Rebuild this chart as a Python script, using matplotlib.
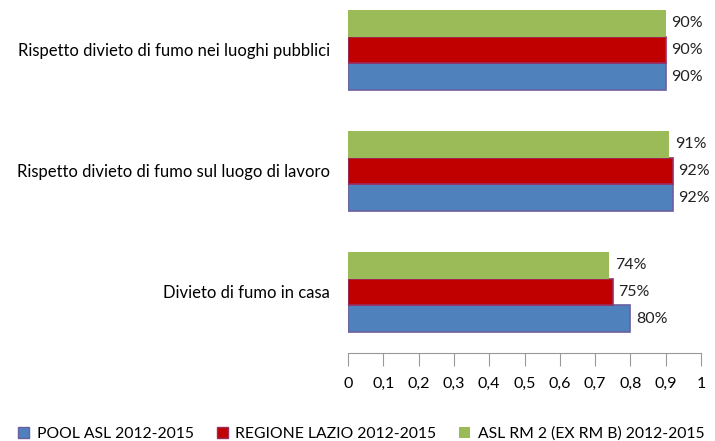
import numpy as np
import matplotlib.pyplot as plt
from matplotlib.patches import Patch

plt.rcParams['font.family'] = ['Lato', 'DejaVu Sans']

# dati
categorie = ['Divieto di fumo in casa',
             'Rispetto divieto di fumo sul luogo di lavoro',
             'Rispetto divieto di fumo nei luoghi pubblici']
pool_asl = [0.80, 0.92, 0.90]
regione_lazio = [0.75, 0.92, 0.90]
asl_rm2 = [0.74, 0.91, 0.90]
etichette_x = ['0', '0,1', '0,2', '0,3', '0,4', '0,5', '0,6', '0,7', '0,8', '0,9', '1']
nomi_serie = ['POOL ASL 2012-2015', 'REGIONE LAZIO 2012-2015', 'ASL RM 2 (EX RM B) 2012-2015']

col_blu = '#4F81BD'
col_rosso = '#C00000'
col_verde = '#9BBB59'

fig = plt.figure(figsize=(7.15, 4.41), dpi=100)
ax = fig.add_axes([348/715, 1 - 353/441, 353/715, 353/441])

y = np.arange(len(categorie))
h = 0.22
ax.barh(y - h, pool_asl, height=h, color=col_blu, edgecolor='#6B5FA0', linewidth=1.2)
ax.barh(y, regione_lazio, height=h, color=col_rosso, edgecolor='#9B2C5E', linewidth=1.2)
ax.barh(y + h, asl_rm2, height=h, color=col_verde, edgecolor='none')

for off, serie in [(-h, pool_asl), (0, regione_lazio), (h, asl_rm2)]:
    for yi, v in zip(y, serie):
        ax.text(v + 0.016, yi + off, '%d%%' % round(v * 100), va='center', ha='left',
                fontsize=11.5, color='#222222')

ax.set_xlim(0, 1)
ax.set_ylim(-0.505, 2.413)
ax.set_xticks(np.arange(0, 1.01, 0.1))
ax.set_xticklabels(etichette_x, fontsize=11.5)
ax.set_yticks(y)
ax.set_yticklabels(categorie, fontsize=12)
ax.tick_params(axis='y', length=0, pad=13)
ax.tick_params(axis='x', length=9, color='#999999', pad=8, direction='out')
for s in ['top', 'right', 'left']:
    ax.spines[s].set_visible(False)
ax.spines['bottom'].set_color('#999999')

# la legenda esce dal bordo destro come nell'originale
handles = [Patch(facecolor=col_blu, edgecolor='#6B5FA0'),
           Patch(facecolor=col_rosso, edgecolor='#9B2C5E'),
           Patch(facecolor=col_verde, edgecolor='none')]
fig.legend(handles, nomi_serie, loc='center left', bbox_to_anchor=(18/715, 1 - 434/441), ncol=3,
           frameon=False, fontsize=11.3, handlelength=0.7, handleheight=0.7,
           handletextpad=0.5, columnspacing=1.45, borderpad=0, borderaxespad=0)

fig.savefig('out.png', dpi=100)
